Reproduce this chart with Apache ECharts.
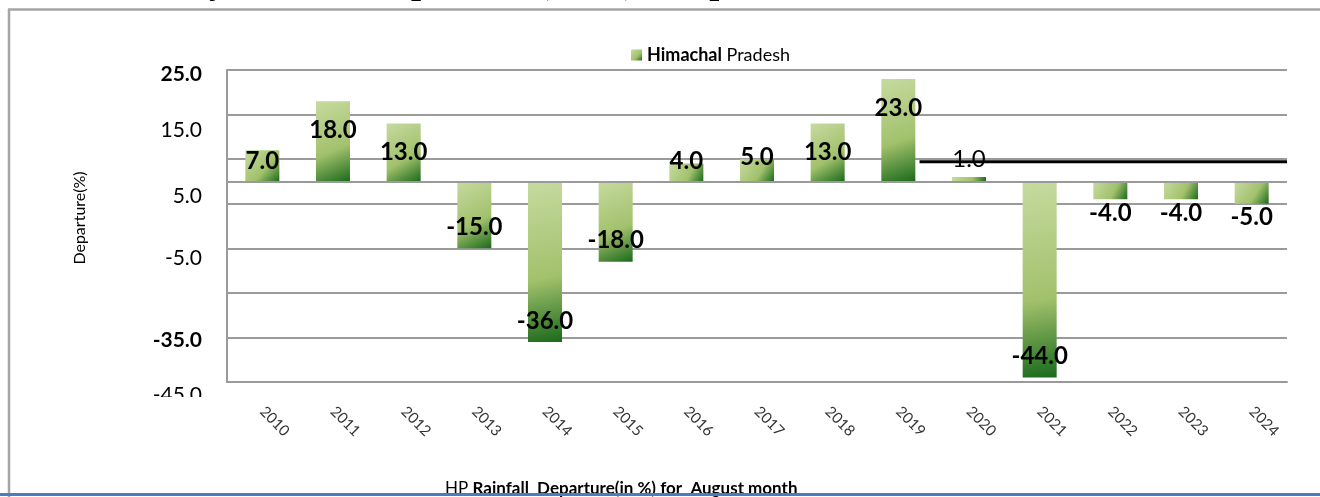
<!DOCTYPE html>
<html>
<head>
<meta charset="utf-8">
<script src="https://cdn.jsdelivr.net/npm/echarts@6/dist/echarts.min.js"></script>
<style>
  html, body { margin: 0; padding: 0; background: #fff; }
  #chart { width: 1320px; height: 497px; }
</style>
</head>
<body>
<div id="chart"></div>
<script>
const years = ['2010', '2011', '2012', '2013', '2014', '2015', '2016', '2017',
  '2018', '2019', '2020', '2021', '2022', '2023', '2024'];
const departure = [7, 18, 13, -15, -36, -18, 4, 5, 13, 23, 1, -44, -4, -4, -5];

// y ticks run -45..25 step 10, only some carry a label in the source
const shownTicks = [25, 15, 5, -5, -35, -45];
const boldTicks = [25, -35];
// stray black rule on the right half of the source plot (x in category units)
const strayLine = [[9.8, 4.4], [15, 4.4]];

// the source labels sit below their ticks by these amounts (px)
const tickDrift = { '25': 4, '15': 16, '5': 37, '-5': 55, '-35': 3, '-45': 13 };

const FONT = 'Lato';
const GRID = '#9a9a9a';

const chart = echarts.init(document.getElementById('chart'));

const barFill = new echarts.graphic.LinearGradient(0, 0, 1, 1, [
  { offset: 0, color: '#c6da9f' },
  { offset: 0.6, color: '#a2c16c' },
  { offset: 1, color: '#1a6a1c' }
]);

function barLabel(v) {
  const base = {
    show: true,
    formatter: p => p.value.toFixed(1),
    fontFamily: FONT, fontSize: 24, fontWeight: 'bold', color: '#000'
  };
  if (v >= 10) return { ...base, position: 'insideTop', distance: 17 };
  if (v >= 6) return { ...base, position: 'insideTop', distance: -1 };
  if (v >= 2) return { ...base, position: 'insideTop', distance: -14 };
  if (v > 0) return { ...base, fontWeight: 'normal', position: 'top', distance: 6 };
  if (v <= -10) return { ...base, position: 'insideBottom', distance: 9 };
  return { ...base, position: 'bottom', distance: 2 };
}

const tickRich = {};
for (let i = 0; i < 8; i++) {
  const v = -45 + i * 10;
  const d = tickDrift[String(v)] || 0;
  tickRich['t' + i] = {
    fontFamily: FONT, fontSize: 21, color: '#000',
    fontWeight: boldTicks.includes(v) ? 'bold' : 'normal',
    padding: [2 * d, 0, 0, 0]
  };
}

chart.setOption({
  animation: false,
  backgroundColor: '#fff',
  grid: { left: 227, right: 33, top: 70, bottom: 115 },
  legend: {
    data: ['Himachal Pradesh'],
    left: 626, top: 41,
    icon: 'rect', itemWidth: 11, itemHeight: 11, itemGap: 5,
    formatter: () => '{b|Himachal} Pradesh',
    textStyle: {
      fontFamily: FONT, fontSize: 18, color: '#000',
      rich: { b: { fontFamily: FONT, fontSize: 18, fontWeight: 'bold', color: '#000' } }
    }
  },
  xAxis: [{
    type: 'category',
    data: years,
    axisLine: { onZero: false, lineStyle: { color: GRID, width: 2 } },
    axisTick: { show: false },
    axisLabel: {
      rotate: -45, margin: 27, interval: 0,
      fontFamily: FONT, fontSize: 15, color: '#333'
    }
  }, {
    type: 'value', min: 0, max: 15, show: false
  }],
  yAxis: {
    type: 'value',
    min: -45, max: 25, interval: 10,
    name: 'Departure(%)',
    nameLocation: 'middle',
    nameGap: 139,
    nameTextStyle: { fontFamily: FONT, fontSize: 16, color: '#000', padding: [0, 0, 0, 16] },
    axisLine: { show: true, lineStyle: { color: GRID, width: 2 } },
    axisTick: { show: false },
    splitLine: { lineStyle: { color: GRID, width: 2 } },
    axisLabel: {
      margin: 25,
      formatter: (v, i) => shownTicks.includes(v) ? '{t' + i + '|' + v.toFixed(1) + '}' : '',
      rich: tickRich
    }
  },
  series: [{
    name: 'Himachal Pradesh',
    type: 'bar',
    barWidth: 34,
    itemStyle: { color: barFill },
    data: departure.map(v => ({ value: v, label: barLabel(v) })),
    markLine: {
      silent: true,
      symbol: 'none',
      label: { show: false },
      lineStyle: { color: GRID, width: 2, type: 'solid' },
      data: [{ yAxis: 0 }]
    }
  }, {
    name: 'stray',
    type: 'line',
    xAxisIndex: 1,
    symbol: 'none',
    silent: true,
    z: 5,
    lineStyle: { color: '#000', width: 3 },
    data: strayLine
  }],
  graphic: [
    {
      type: 'text', x: 95, y: -34, z: 10,
      style: {
        text: 'Monthly Rainfall Departure (in %) comparison from 2010 to 2024',
        font: 'bold 36px "Liberation Serif"', fill: '#000', verticalAlign: 'top'
      }
    },
    { type: 'line', z: 20, shape: { x1: 8, y1: 9.5, x2: 1320, y2: 9.5 }, style: { stroke: '#a5a5a5', lineWidth: 2.5 } },
    { type: 'line', z: 20, shape: { x1: 9, y1: 9, x2: 9, y2: 497 }, style: { stroke: '#a5a5a5', lineWidth: 2.5 } },
    { type: 'rect', z: 20, shape: { x: 120, y: 397, width: 100, height: 14 }, style: { fill: '#fff' } },
    {
      type: 'text', x: 445, y: 489, z: 10,
      style: {
        text: '{r|HP }{b|Rainfall  Departure(in %) for  August month}',
        verticalAlign: 'middle',
        rich: {
          r: { fontFamily: FONT, fontSize: 17, fill: '#000' },
          b: { fontFamily: FONT, fontSize: 17, fontWeight: 'bold', fill: '#000' }
        }
      }
    },
    { type: 'line', z: 30, shape: { x1: 0, y1: 494.5, x2: 1320, y2: 494.5 }, style: { stroke: '#4a7ebb', lineWidth: 3 } }
  ]
});

window.addEventListener('resize', () => chart.resize());
</script>
</body>
</html>
